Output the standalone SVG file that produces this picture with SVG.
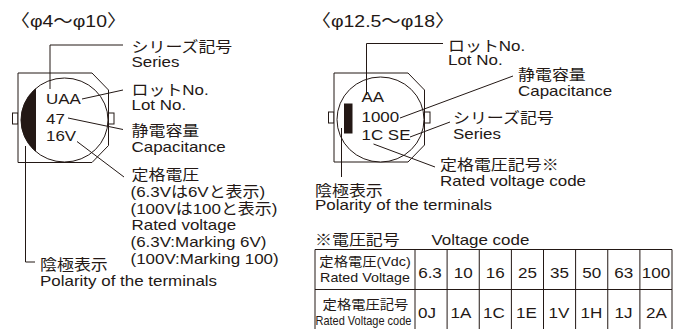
<svg xmlns="http://www.w3.org/2000/svg" width="686" height="329" viewBox="0 0 686 329">
<style>
text{font-family:"Liberation Sans","Noto Sans CJK JP",sans-serif;fill:#231815;}
.s{transform-box:fill-box;transform-origin:0 0;transform:scaleX(1.13);}
.m{text-anchor:middle;transform-box:fill-box;transform-origin:50% 50%;transform:scaleX(1.1);}
.n{transform-box:fill-box;transform-origin:0 0;transform:scaleX(0.815);}
.lb{font-size:15px;}
.hd{font-size:17.2px;}
.th{font-size:13px;}
.tc{font-size:13.5px;}
.tv{font-size:15.5px;}
.body{fill:#fff;stroke:#231815;stroke-width:1;}
.tab{fill:#fff;stroke:#231815;stroke-width:1;}
.blk{fill:#231815;stroke:none;}
.ld{fill:none;stroke:#231815;stroke-width:1;}
.grid{fill:none;stroke:#231815;stroke-width:1;}
</style>

<g id="title-small">
<text class="hd s" x="10.5" y="27.5">〈φ4〜φ10〉</text>
</g>
<g id="title-large">
<text class="hd s" x="311.5" y="27.5">〈φ12.5〜φ18〉</text>
</g>

<g id="cap-small">
<rect class="tab" x="12.5" y="113" width="5.5" height="11"/>
<rect class="tab" x="108.5" y="113" width="5.5" height="11"/>
<path class="body" d="M18,73 H92 L108.5,90 V145.5 L92,162.5 H18 Z"/>
<ellipse class="body" cx="64.5" cy="120" rx="43.5" ry="42"/>
<path class="blk" d="M36,88.2 A43.5,42 0 0 0 36,151.8 Z"/>
<text class="lb s" x="46" y="104">UAA</text>
<text class="lb s" x="46" y="124">47</text>
<text class="lb s" x="46" y="141.5">16V</text>
</g>

<g id="cap-large">
<rect class="tab" x="328.5" y="112" width="5.5" height="11"/>
<rect class="tab" x="424.5" y="112" width="5.5" height="11"/>
<path class="body" d="M334,73 H408 L424.5,90 V145 L408,162 H334 Z"/>
<ellipse class="body" cx="380.5" cy="119.5" rx="43.5" ry="42.5"/>
<rect class="blk" x="344" y="103.5" width="8.5" height="30"/>
<text class="lb s" x="361.5" y="102.5">AA</text>
<text class="lb s" x="361.5" y="122.5">1000</text>
<text class="lb s" x="361.5" y="140.5">1C SE</text>
</g>

<g id="connectors">
<polyline class="ld" points="50,89 50,45 123,45"/>
<line class="ld" x1="82" y1="99" x2="123" y2="90"/>
<line class="ld" x1="68" y1="118" x2="123" y2="129.5"/>
<line class="ld" x1="77" y1="141.5" x2="124" y2="177"/>
<polyline class="ld" points="25.5,146 25.5,262 35,262"/>
<polyline class="ld" points="366.5,95 366.5,43.5 443,43.5"/>
<line class="ld" x1="400" y1="118" x2="513" y2="76"/>
<line class="ld" x1="410" y1="137" x2="450" y2="122"/>
<line class="ld" x1="373.5" y1="144" x2="435" y2="167"/>
<line class="ld" x1="341.5" y1="128" x2="341.5" y2="177"/>
</g>

<g id="label-series-small">
<text class="lb s" x="131.5" y="52">シリーズ記号</text>
<text class="lb s" x="131.5" y="67">Series</text>
</g>
<g id="label-lot-small">
<text class="lb s" x="131.5" y="95">ロットNo.</text>
<text class="lb s" x="131.5" y="110">Lot No.</text>
</g>
<g id="label-cap-small">
<text class="lb s" x="131.5" y="136">静電容量</text>
<text class="lb s" x="131.5" y="152">Capacitance</text>
</g>
<g id="label-voltage-small">
<text class="lb s" x="131.5" y="180">定格電圧</text>
<text class="lb s" x="130.5" y="196.8">(6.3Vは6Vと表示)</text>
<text class="lb s" x="130.5" y="213.6">(100Vは100と表示)</text>
<text class="lb s" x="131.5" y="230.4">Rated voltage</text>
<text class="lb s" x="130.5" y="247.2">(6.3V:Marking 6V)</text>
<text class="lb s" x="130.5" y="264">(100V:Marking 100)</text>
</g>
<g id="label-polarity-small">
<text class="lb s" x="40" y="270">陰極表示</text>
<text class="lb s" x="40" y="286">Polarity of the terminals</text>
</g>

<g id="label-lot-large">
<text class="lb s" x="448" y="51">ロットNo.</text>
<text class="lb s" x="448" y="65.5">Lot No.</text>
</g>
<g id="label-cap-large">
<text class="lb s" x="518" y="80.5">静電容量</text>
<text class="lb s" x="518" y="96">Capacitance</text>
</g>
<g id="label-series-large">
<text class="lb s" x="453" y="123">シリーズ記号</text>
<text class="lb s" x="453" y="139.5">Series</text>
</g>
<g id="label-code-large">
<text class="lb s" x="440" y="170">定格電圧記号※</text>
<text class="lb s" x="440" y="186">Rated voltage code</text>
</g>
<g id="label-polarity-large">
<text class="lb s" x="315" y="196">陰極表示</text>
<text class="lb s" x="315" y="210.5">Polarity of the terminals</text>
</g>

<g id="voltage-table">
<text class="lb s" x="315" y="245">※電圧記号<tspan x="418">Voltage code</tspan></text>
<path class="grid" d="M315,331 V249.5 H672 V331 M315,289.5 H672 M415,249.5 V331 M447.1,249.5 V331 M479.25,249.5 V331 M511.4,249.5 V331 M543.5,249.5 V331 M575.6,249.5 V331 M607.75,249.5 V331 M639.9,249.5 V331"/>
<text class="th m" x="365" y="266.5">定格電圧(Vdc)</text>
<text class="th m" x="365" y="282.5">Rated Voltage</text>
<text class="th m" x="365.5" y="309.5">定格電圧記号</text>
<text class="tc n" x="315.5" y="325.5">Rated Voltage code</text>
<text class="tv m" x="430" y="278">6.3</text>
<text class="tv m" x="463.2" y="278">10</text>
<text class="tv m" x="495.3" y="278">16</text>
<text class="tv m" x="527.5" y="278">25</text>
<text class="tv m" x="559.6" y="278">35</text>
<text class="tv m" x="591.7" y="278">50</text>
<text class="tv m" x="623.8" y="278">63</text>
<text class="tv m" x="656" y="278">100</text>
<text class="tv m" x="427" y="318">0J</text>
<text class="tv m" x="461" y="318">1A</text>
<text class="tv m" x="494" y="318">1C</text>
<text class="tv m" x="526.5" y="318">1E</text>
<text class="tv m" x="559" y="318">1V</text>
<text class="tv m" x="591.5" y="318">1H</text>
<text class="tv m" x="623.5" y="318">1J</text>
<text class="tv m" x="656.5" y="318">2A</text>
</g>
</svg>
